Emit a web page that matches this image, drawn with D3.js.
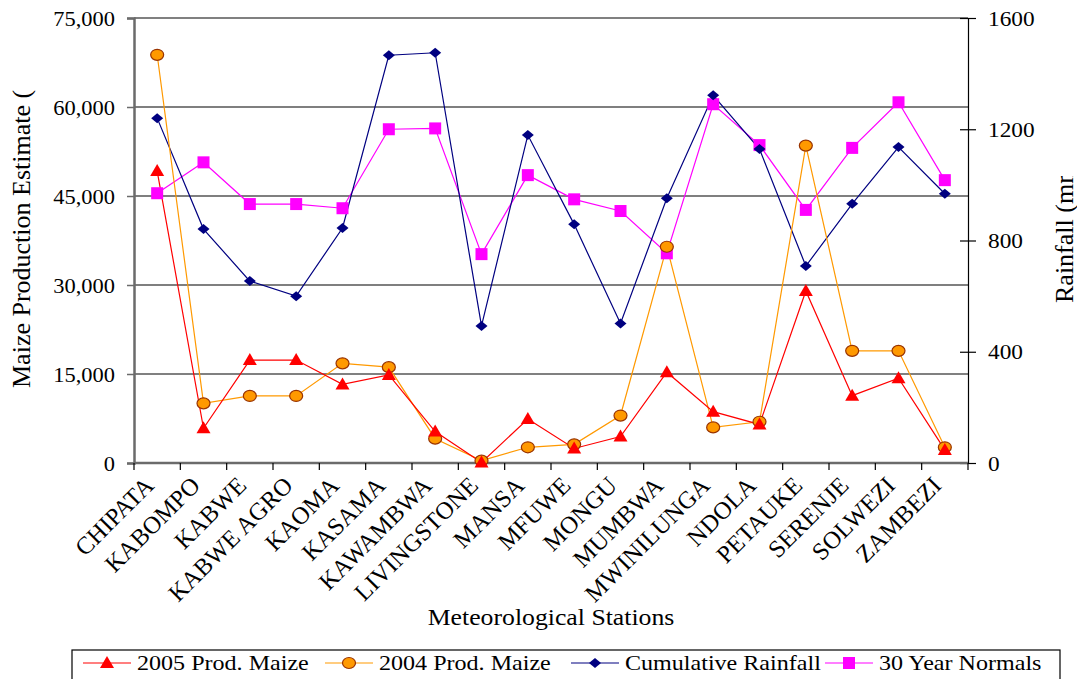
<!DOCTYPE html>
<html>
<head>
<meta charset="utf-8">
<script src="https://cdn.jsdelivr.net/npm/d3@7"></script>
<style>
  body { margin: 0; background: #fff; }
  svg { font-family: "Liberation Serif", "Times New Roman", serif; }
</style>
</head>
<body>
<div id="grafiek"></div>
<script>
// stations
const stations = ["CHIPATA", "KABOMPO", "KABWE", "KABWE AGRO", "KAOMA", "KASAMA", "KAWAMBWA",
  "LIVINGSTONE", "MANSA", "MFUWE", "MONGU", "MUMBWA", "MWINILUNGA", "NDOLA", "PETAUKE",
  "SERENJE", "SOLWEZI", "ZAMBEZI"];

// maize production (tonnes), left axis
const prod2005 = [49200, 5850, 17350, 17350, 13250, 14850, 5300, 100, 7400, 2450, 4450, 15300,
  8650, 6500, 29000, 11350, 14300, 2200];
const prod2004 = [68800, 10050, 11300, 11300, 16800, 16150, 4100, 400, 2650, 3150, 8000, 36450,
  6000, 6950, 53500, 18900, 18900, 2650];

// rainfall (mm), right axis
const rainfall = [1240, 841, 654, 600, 845, 1466, 1475, 493, 1179, 858, 502, 952, 1322, 1129,
  708, 932, 1136, 968];
const normals = [970, 1081, 931, 931, 916, 1200, 1203, 751, 1035, 948, 906, 754, 1290, 1143,
  910, 1133, 1297, 1017];

const leftTicks = [0, 15000, 30000, 45000, 60000, 75000];
const rightTicks = [0, 400, 800, 1200, 1600];

const width = 1077, height = 679;
const margin = { top: 18, right: 109, bottom: 216, left: 134 };
const innerW = width - margin.left - margin.right;
const innerH = height - margin.top - margin.bottom;
const SX = 1.12; // tekst is iets breed in het origineel

const svg = d3.select("#grafiek").append("svg")
  .attr("width", width).attr("height", height);

const g = svg.append("g").attr("transform", `translate(${margin.left},${margin.top})`);

// schalen
const x = d3.scaleBand().domain(stations).range([0, innerW]);
const yL = d3.scaleLinear().domain([0, 75000]).range([innerH, 0]);
const yR = d3.scaleLinear().domain([0, 1600]).range([innerH, 0]);
const cx = d => x(d) + x.bandwidth() / 2;

// gridlines
g.selectAll(".grid").data(leftTicks.filter(t => t > 0)).join("line")
  .attr("x1", 0).attr("x2", innerW)
  .attr("y1", d => yL(d)).attr("y2", d => yL(d))
  .attr("stroke", d => (d === 15000 || d === 75000) ? "#808080" : "#000")
  .attr("stroke-width", d => (d === 15000 || d === 75000) ? 1.8 : 1.2);

// left axis
const gl = g.append("g").call(d3.axisLeft(yL).tickValues(leftTicks).tickSize(7).tickPadding(0)
  .tickFormat(d3.format(",")));
gl.select(".domain").attr("stroke", "#6b6b6b").attr("stroke-width", 2.5);
gl.selectAll(".tick line").attr("stroke", "#6b6b6b").attr("stroke-width", 1.5);
gl.selectAll("text").attr("x", null)
  .attr("transform", "translate(-19,0) scale(1.02,1)")
  .attr("font-size", 22).attr("font-family", "Liberation Serif").attr("fill", "#000");

// right axis
const gr = g.append("g").attr("transform", `translate(${innerW},0)`)
  .call(d3.axisRight(yR).tickValues(rightTicks).tickSizeOuter(0).tickSize(8).tickPadding(0)
    .tickFormat(d3.format("d")));
gr.select(".domain").attr("stroke", "#000").attr("stroke-width", 1.2);
gr.selectAll(".tick line").attr("x1", -8).attr("stroke", "#000").attr("stroke-width", 1.2);
gr.selectAll("text").attr("x", null)
  .attr("transform", "translate(20,0) scale(1.06,1)")
  .attr("font-size", 22).attr("font-family", "Liberation Serif").attr("fill", "#000");

// bottom axis, ticks at band edges
const edges = d3.range(stations.length + 1).map(i => i * x.step());
g.append("line").attr("x1", 0).attr("x2", innerW).attr("y1", innerH).attr("y2", innerH)
  .attr("stroke", "#6b6b6b").attr("stroke-width", 2.5);
g.selectAll(".xtick").data(edges).join("line")
  .attr("x1", d => d).attr("x2", d => d).attr("y1", innerH).attr("y2", innerH + 7)
  .attr("stroke", "#000").attr("stroke-width", 1.2);

// station labels
g.selectAll(".xlabel").data(stations).join("text")
  .attr("transform", d => `translate(${cx(d) - 2},${innerH + 24}) rotate(-45)`)
  .attr("text-anchor", "end")
  .attr("font-size", 24.5)
  .text(d => d);

// titels
svg.append("text").attr("transform", `translate(551,625) scale(${SX},1)`).attr("text-anchor", "middle")
  .attr("font-size", 23).text("Meteorological Stations");

svg.append("clipPath").attr("id", "clipL").append("rect")
  .attr("x", 0).attr("y", 90).attr("width", 60).attr("height", 400);
svg.append("g").attr("clip-path", "url(#clipL)").append("text")
  .attr("transform", "translate(30,388) rotate(-90)")
  .attr("font-size", 26).text("Maize Production Estimate (tonnes)");

svg.append("clipPath").attr("id", "clipR").append("rect")
  .attr("x", 1030).attr("y", 176).attr("width", 60).attr("height", 200);
svg.append("g").attr("clip-path", "url(#clipR)").append("text")
  .attr("transform", "translate(1073,303) rotate(-90)")
  .attr("font-size", 26).text("Rainfall (mm)");

// series
const series = [
  { name: "2005 Prod. Maize", values: prod2005, y: yL, color: "#ff0000", marker: "triangle" },
  { name: "2004 Prod. Maize", values: prod2004, y: yL, color: "#ff9900", marker: "circle" },
  { name: "Cumulative Rainfall", values: rainfall, y: yR, color: "#000080", marker: "diamond" },
  { name: "30 Year Normals", values: normals, y: yR, color: "#ff00ff", marker: "square" }
];

function drawMarker(sel, type) {
  if (type === "triangle") {
    sel.append("path").attr("d", "M0,-7L7,5L-7,5Z").attr("fill", "#ff0000");
  } else if (type === "circle") {
    sel.append("ellipse").attr("rx", 6.5).attr("ry", 5.5)
      .attr("fill", "#ff9900").attr("stroke", "#993300").attr("stroke-width", 1.2);
  } else if (type === "diamond") {
    sel.append("path").attr("d", "M0,-5L6,0L0,5L-6,0Z").attr("fill", "#000080");
  } else {
    sel.append("rect").attr("x", -6).attr("y", -6).attr("width", 12).attr("height", 12)
      .attr("fill", "#ff00ff");
  }
}

const drawOrder = [3, 2, 1, 0];
drawOrder.forEach(i => {
  const s = series[i];
  const line = d3.line().x((d, j) => cx(stations[j])).y(d => s.y(d));
  g.append("path").datum(s.values).attr("d", line)
    .attr("fill", "none").attr("stroke", s.color).attr("stroke-width", 1.2);
});
drawOrder.forEach(i => {
  const s = series[i];
  s.values.forEach((v, j) => {
    const m = g.append("g").attr("transform", `translate(${cx(stations[j])},${s.y(v)})`);
    drawMarker(m, s.marker);
  });
});

// legend
const lg = svg.append("g");
lg.append("rect").attr("x", 72).attr("y", 650).attr("width", 988).attr("height", 40)
  .attr("fill", "#fff").attr("stroke", "#000").attr("stroke-width", 1.2);
const legendX = [83, 325, 571, 825];
series.forEach((s, i) => {
  const it = lg.append("g").attr("transform", `translate(${legendX[i]},663)`);
  it.append("line").attr("x1", 0).attr("x2", 48).attr("stroke", s.color).attr("stroke-width", 1.2);
  drawMarker(it.append("g").attr("transform", "translate(24,0)"), s.marker);
  it.append("text").attr("transform", `translate(54,7) scale(${SX},1)`)
    .attr("font-size", 21.5).text(s.name);
});
</script>
</body>
</html>
